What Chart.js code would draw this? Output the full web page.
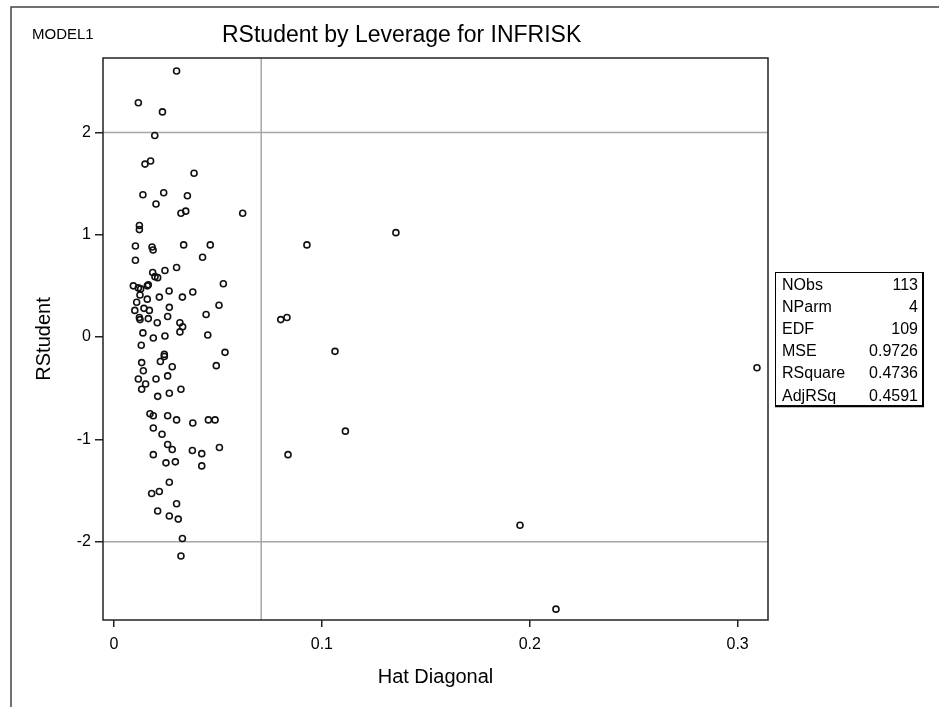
<!DOCTYPE html>
<html>
<head>
<meta charset="utf-8">
<script src="https://cdn.jsdelivr.net/npm/chart.js@4"></script>
<style>
  html, body { margin: 0; padding: 0; background: #fff; }
  #wrap { width: 939px; height: 707px; }
</style>
</head>
<body>
<div id="wrap"><canvas id="lev" width="939" height="707"></canvas></div>
<script>
// Hat diagonal (leverage) and studentized residual for each observation
const hatDiag = [
    0.0301, 0.0117, 0.0233, 0.0196, 0.0149, 0.0176, 0.0385, 0.0139, 0.0239, 0.0353,
    0.0202, 0.0322, 0.0345, 0.0619,
    0.0122, 0.0122, 0.0103, 0.0183, 0.0188, 0.0335, 0.0463, 0.0426, 0.0103, 0.0301,
    0.0245, 0.0186, 0.0197, 0.0210, 0.0526, 0.0093, 0.0117, 0.0128, 0.0160, 0.0165,
    0.0265, 0.0379, 0.0218, 0.0329, 0.0125, 0.0109, 0.0160, 0.0505, 0.0266, 0.0100,
    0.0144, 0.0170, 0.0443, 0.0258, 0.0122, 0.0125, 0.0165, 0.0208, 0.0317, 0.0330,
    0.0317, 0.0139, 0.0189, 0.0245, 0.0451, 0.0131, 0.0534, 0.0242, 0.0242, 0.0223,
    0.0280, 0.0492, 0.0133, 0.0141, 0.0258, 0.0202, 0.0117, 0.0152, 0.0133, 0.0322,
    0.0266, 0.0210,
    0.0173, 0.0189, 0.0258, 0.0301, 0.0379, 0.0454, 0.0486, 0.0189, 0.0231, 0.0258,
    0.0280, 0.0377, 0.0422, 0.0507, 0.0189, 0.0250, 0.0295, 0.0422, 0.0266, 0.0181,
    0.0218, 0.0301, 0.0210, 0.0266, 0.0309, 0.0329, 0.0322,
    0.0928, 0.0802, 0.0832, 0.1063, 0.1113, 0.0837,
    0.1356, 0.1953, 0.2126, 0.3093
];
const rStudent = [
    2.60, 2.29, 2.20, 1.97, 1.69, 1.72, 1.60, 1.39, 1.41, 1.38,
    1.30, 1.21, 1.23, 1.21,
    1.09, 1.05, 0.89, 0.88, 0.85, 0.90, 0.90, 0.78, 0.75, 0.68,
    0.65, 0.63, 0.59, 0.58, 0.52, 0.50, 0.48, 0.47, 0.50, 0.51,
    0.45, 0.44, 0.39, 0.39, 0.41, 0.34, 0.37, 0.31, 0.29, 0.26,
    0.28, 0.26, 0.22, 0.20, 0.19, 0.17, 0.18, 0.14, 0.14, 0.10,
    0.05, 0.04, -0.01, 0.01, 0.02, -0.08, -0.15, -0.17, -0.19, -0.24,
    -0.29, -0.28, -0.25, -0.33, -0.38, -0.41, -0.41, -0.46, -0.51, -0.51,
    -0.55, -0.58,
    -0.75, -0.77, -0.77, -0.81, -0.84, -0.81, -0.81, -0.89, -0.95, -1.05,
    -1.10, -1.11, -1.14, -1.08, -1.15, -1.23, -1.22, -1.26, -1.42, -1.53,
    -1.51, -1.63, -1.70, -1.75, -1.78, -1.97, -2.14,
    0.90, 0.17, 0.19, -0.14, -0.92, -1.15,
    1.02, -1.84, -2.66, -0.30
];

// Reference lines
const rstudentLimits = [2, -2];
const leverageCutoff = 0.0708;

// Axis ticks and ranges
const xTicks = [0, 0.1, 0.2, 0.3];
const yTicks = [-2, -1, 0, 1, 2];
const xRange = [-0.0053, 0.3146];
const yRange = [-2.766, 2.727];

// Fit statistics box
const statNames = ['NObs', 'NParm', 'EDF', 'MSE', 'RSquare', 'AdjRSq'];
const statValues = ['113', '4', '109', '0.9726', '0.4736', '0.4591'];

const FONT = 'Arial, "Liberation Sans", sans-serif';

const points = hatDiag.map((h, i) => ({ x: h, y: rStudent[i] }));

const refDatasets = rstudentLimits.map(v => ({
    type: 'line',
    data: [{ x: xRange[0], y: v }, { x: xRange[1], y: v }],
    borderColor: '#a6a6a6',
    borderWidth: 1.5,
    pointRadius: 0,
    order: 2
}));
refDatasets.push({
    type: 'line',
    data: [{ x: leverageCutoff, y: yRange[0] }, { x: leverageCutoff, y: yRange[1] }],
    borderColor: '#a6a6a6',
    borderWidth: 1.5,
    pointRadius: 0,
    order: 2
});

// Frame, page border, title and stats box
const decorations = {
    id: 'decorations',
    afterDraw(chart) {
        const ctx = chart.ctx;
        const a = chart.chartArea;
        ctx.save();

        // page border (top and left only)
        ctx.strokeStyle = '#444';
        ctx.lineWidth = 1.5;
        ctx.beginPath();
        ctx.moveTo(11, 707);
        ctx.lineTo(11, 7);
        ctx.lineTo(939, 7);
        ctx.stroke();

        // plot frame
        ctx.strokeStyle = '#222';
        ctx.lineWidth = 1.5;
        ctx.strokeRect(a.left, a.top, a.right - a.left, a.bottom - a.top);

        // titles
        ctx.fillStyle = '#000';
        ctx.textBaseline = 'middle';
        ctx.textAlign = 'left';
        ctx.font = '15px ' + FONT;
        ctx.fillText('MODEL1', 32, 35);
        ctx.font = '23px ' + FONT;
        ctx.fillText('RStudent by Leverage for INFRISK', 222, 36);

        // stats box
        const bx = 775, by = 272, bw = 147, rowH = 22.2;
        const bh = rowH * statNames.length;
        ctx.fillStyle = '#fff';
        ctx.fillRect(bx, by, bw, bh);
        ctx.strokeStyle = '#000';
        ctx.lineWidth = 1;
        ctx.strokeRect(bx + 0.5, by + 0.5, bw, bh);
        ctx.lineWidth = 2;
        ctx.beginPath();
        ctx.moveTo(bx + bw + 1, by);
        ctx.lineTo(bx + bw + 1, by + bh + 1);
        ctx.lineTo(bx, by + bh + 1);
        ctx.stroke();
        ctx.fillStyle = '#000';
        ctx.font = '16px ' + FONT;
        statNames.forEach((name, i) => {
            const y = by + rowH * (i + 0.5) + 2;
            ctx.textAlign = 'left';
            ctx.fillText(name, bx + 7, y);
            ctx.textAlign = 'right';
            ctx.fillText(statValues[i], bx + bw - 4, y);
        });
        ctx.restore();
    }
};

const ctx = document.getElementById('lev').getContext('2d');
new Chart(ctx, {
    type: 'scatter',
    data: {
        datasets: [{
            label: 'RStudent',
            data: points,
            pointStyle: 'circle',
            pointRadius: 3,
            pointBorderWidth: 1.6,
            pointBorderColor: '#111',
            pointBackgroundColor: 'rgba(255,255,255,0)',
            order: 1
        }, ...refDatasets]
    },
    options: {
        responsive: false,
        animation: false,
        layout: {
            padding: { left: 0, right: 171, top: 58, bottom: 0 }
        },
        plugins: {
            legend: { display: false },
            tooltip: { enabled: false }
        },
        scales: {
            x: {
                type: 'linear',
                min: xRange[0],
                max: xRange[1],
                afterBuildTicks: scale => {
                    scale.ticks = xTicks.map(v => ({ value: v }));
                },
                afterFit: scale => { scale.height = 87; },
                border: { display: false },
                grid: {
                    drawOnChartArea: false,
                    drawTicks: true,
                    tickLength: 7,
                    color: '#222',
                    lineWidth: 1.5
                },
                ticks: {
                    color: '#000',
                    padding: 8,
                    font: { family: FONT, size: 16 },
                    maxRotation: 0
                },
                title: {
                    display: true,
                    text: 'Hat Diagonal',
                    color: '#000',
                    font: { family: FONT, size: 20 },
                    padding: { top: 0, bottom: 18 }
                }
            },
            y: {
                type: 'linear',
                min: yRange[0],
                max: yRange[1],
                afterBuildTicks: scale => {
                    scale.ticks = yTicks.map(v => ({ value: v }));
                },
                afterFit: scale => { scale.width = 103; },
                border: { display: false },
                grid: {
                    drawOnChartArea: false,
                    drawTicks: true,
                    tickLength: 8,
                    color: '#222',
                    lineWidth: 1.5
                },
                ticks: {
                    color: '#000',
                    padding: 4,
                    font: { family: FONT, size: 16 }
                },
                title: {
                    display: true,
                    text: 'RStudent',
                    color: '#000',
                    font: { family: FONT, size: 20 },
                    padding: { top: 32, bottom: 0 }
                }
            }
        }
    },
    plugins: [decorations]
});
</script>
</body>
</html>
